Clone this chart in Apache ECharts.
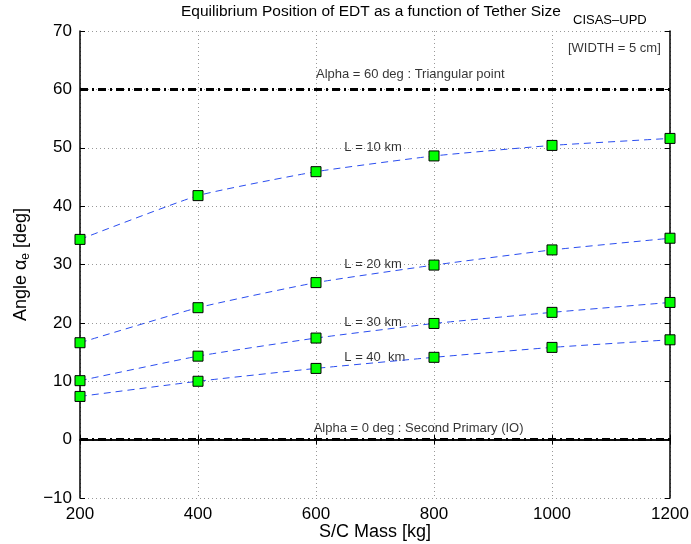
<!DOCTYPE html>
<html><head><meta charset="utf-8">
<script src="https://cdn.jsdelivr.net/npm/echarts@6/dist/echarts.min.js"></script>
<style>html,body{margin:0;padding:0;background:#fff}#c{width:691px;height:544px}</style>
</head><body><div id="c"></div>
<script>
const masses = [200, 400, 600, 800, 1000, 1200];
const L10 = [34.3, 41.8, 45.9, 48.6, 50.4, 51.6];
const L20 = [16.6, 22.6, 26.9, 29.9, 32.5, 34.5];
const L30 = [10.1, 14.3, 17.4, 19.9, 21.8, 23.5];
const L40 = [7.4, 10.0, 12.2, 14.1, 15.8, 17.1];
const refLines = [60, 0];
const annotations = [
  [600, 62.5, 'Alpha = 60 deg : Triangular point'],
  [648, 50, 'L = 10 km'],
  [648, 30, 'L = 20 km'],
  [648, 20, 'L = 30 km'],
  [648, 14, 'L = 40  km'],
  [596, 1.9, 'Alpha = 0 deg : Second Primary (IO)'],
  [1027, 67.1, '[WIDTH = 5 cm]']
];
const FONT = "'Liberation Sans', Arial, Helvetica, sans-serif";
const chart = echarts.init(document.getElementById('c'));
function curve(name, vals) {
  return {
    name, type: 'line', data: masses.map((m, i) => [m, vals[i]]),
    smooth: 0.15, symbol: 'rect', symbolSize: 10,
    itemStyle: { color: '#00ff00', borderColor: '#000', borderWidth: 1 },
    lineStyle: { color: '#2a4df0', width: 1, type: [7, 5] },
    z: 5
  };
}
const fmt = v => String(v).replace('-', '\u2212');
const axisCommon = {
  axisLine: { show: true, lineStyle: { color: '#000', width: 1.5 } },
  axisTick: { show: true, inside: true, length: 5, lineStyle: { color: '#000' } },
  axisLabel: { color: '#000', fontSize: 17, fontFamily: FONT, formatter: fmt }
};
chart.setOption({
  animation: false,
  backgroundColor: '#fff',
  grid: { left: 80, right: 21, top: 31, bottom: 46, containLabel: false, outerBoundsMode: 'none' },
  graphic: [
    { type: 'text', left: 181, top: 4, style: { text: 'Equilibrium Position of EDT as a function of Tether Size', font: '15.5px ' + FONT, fill: '#000' } },
    { type: 'text', left: 573, top: 14, style: { text: 'CISAS\u2013UPD', font: '13px ' + FONT, fill: '#000' } }
  ],
  xAxis: [
    Object.assign({}, axisCommon, {
      type: 'value', min: 200, max: 1200, interval: 200,
      name: 'S/C Mass [kg]', nameLocation: 'middle', nameGap: 25, nameMoveOverlap: false,
      nameTextStyle: { color: '#000', fontSize: 18, fontFamily: FONT, verticalAlign: 'top' },
      axisLabel: Object.assign({}, axisCommon.axisLabel, { margin: 8 }),
      splitLine: { show: true, lineStyle: { color: '#999', type: [1, 3], width: 1 } }
    }),
    Object.assign({}, axisCommon, {
      type: 'value', min: 200, max: 1200, interval: 200, position: 'top',
      axisLabel: { show: false }, splitLine: { show: false }
    })
  ],
  yAxis: [
    Object.assign({}, axisCommon, {
      type: 'value', min: -10, max: 70, interval: 10,
      name: '{a|Angle \u03b1}{s|e}{a| [deg]}', nameLocation: 'middle', nameGap: 48, nameRotate: 90,
      nameTextStyle: { color: '#000', fontFamily: FONT,
        rich: { a: { fontSize: 18, fontFamily: FONT, color: '#000' },
                s: { fontSize: 12, fontFamily: FONT, color: '#000', padding: [10, 0, 0, 0] } } },
      axisLabel: Object.assign({}, axisCommon.axisLabel, { margin: 8 }),
      splitLine: { show: true, lineStyle: { color: '#999', type: [1, 3], width: 1 } }
    }),
    Object.assign({}, axisCommon, {
      type: 'value', min: -10, max: 70, interval: 10, position: 'right',
      axisLabel: { show: false }, splitLine: { show: false }
    })
  ],
  series: [
    {
      type: 'line', data: [], silent: true,
      markLine: {
        symbol: 'none', silent: true, label: { show: false },
        lineStyle: { color: '#000', width: 3, type: [8, 4, 2, 4] },
        data: refLines.map(v => ({ yAxis: v }))
      }, z: 3
    },
    curve('L10', L10), curve('L20', L20), curve('L30', L30), curve('L40', L40),
    {
      type: 'scatter', symbolSize: 0, silent: true, z: 4,
      data: annotations.map(a => ({ value: [a[0], a[1]], label: { formatter: a[2] } })),
      label: { show: true, position: 'right', distance: 0, color: '#000', fontSize: 13, fontFamily: FONT }
    }
  ]
});
</script></body></html>
